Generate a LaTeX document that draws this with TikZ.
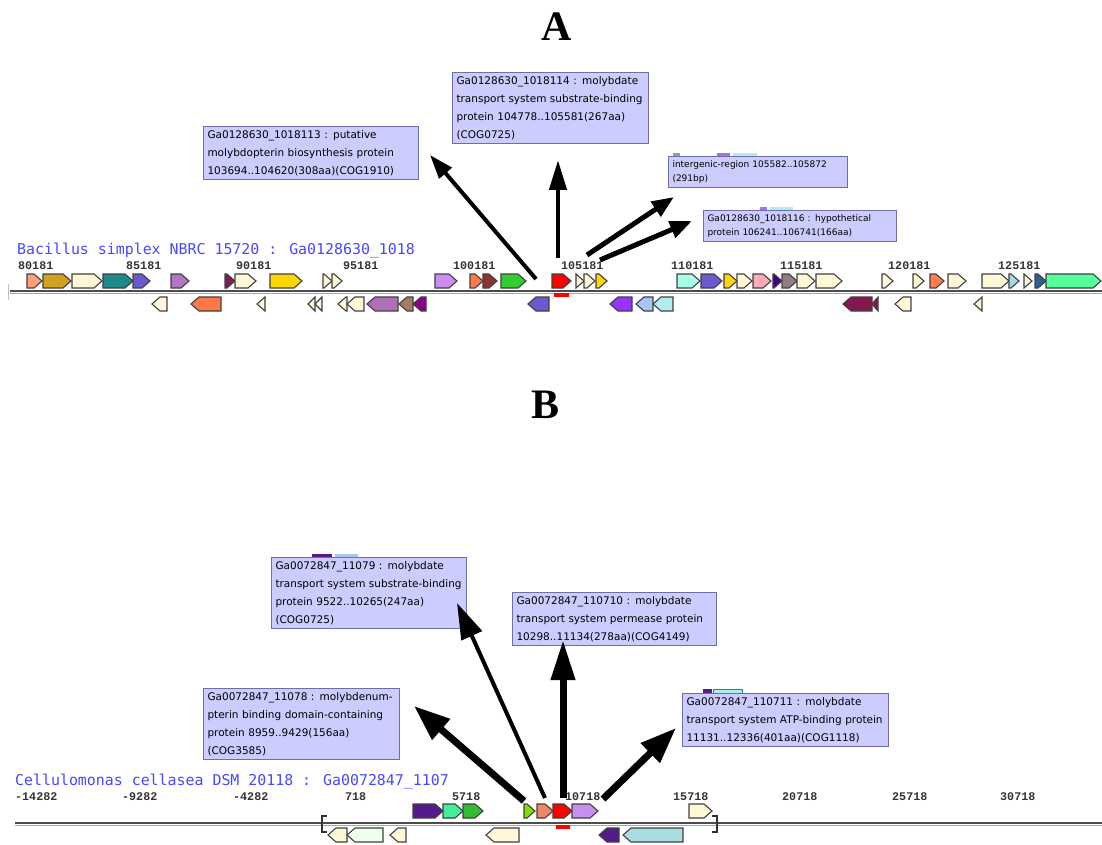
\documentclass[tikz,border=0pt]{standalone}
\usepackage{fontspec}
\setmainfont{DejaVu Sans}
\newfontfamily\monofam{DejaVu Sans Mono}
\newfontfamily\numfam{Liberation Mono}
\newfontfamily\serffam{Liberation Serif}
\usetikzlibrary{arrows.meta}
\definecolor{csilk}{HTML}{FFF7D6}
\definecolor{salm}{HTML}{FFA07A}
\definecolor{gold1}{HTML}{D4A020}
\definecolor{teal1}{HTML}{1A8A8A}
\definecolor{slate}{HTML}{6A5ACD}
\definecolor{orch}{HTML}{B274C4}
\definecolor{maro}{HTML}{7B1F55}
\definecolor{gold2}{HTML}{FFD700}
\definecolor{viol}{HTML}{CC8CF0}
\definecolor{tomat}{HTML}{FF7A45}
\definecolor{brwn}{HTML}{8B3333}
\definecolor{lime1}{HTML}{33CC33}
\definecolor{aqua1}{HTML}{A8FFE8}
\definecolor{pink1}{HTML}{FFAAB8}
\definecolor{indg}{HTML}{4B0082}
\definecolor{gbrn}{HTML}{8E7F80}
\definecolor{coral1}{HTML}{FF7F50}
\definecolor{lblue}{HTML}{A6D8E8}
\definecolor{dblue}{HTML}{2F5F8F}
\definecolor{sprg}{HTML}{55FF99}
\definecolor{coral2}{HTML}{FF7744}
\definecolor{orch2}{HTML}{B070B8}
\definecolor{tan1}{HTML}{A87C62}
\definecolor{dmag}{HTML}{8B008B}
\definecolor{bviol}{HTML}{9933FF}
\definecolor{lsteel}{HTML}{A8C4F8}
\definecolor{pturq}{HTML}{B0EEEE}
\definecolor{maro2}{HTML}{861650}
\definecolor{indg2}{HTML}{551A8B}
\definecolor{aqua2}{HTML}{44EE99}
\definecolor{lime2}{HTML}{33BB33}
\definecolor{lawn}{HTML}{88DD00}
\definecolor{dsalm}{HTML}{F08868}
\definecolor{lpurp}{HTML}{C690F0}
\definecolor{honey}{HTML}{EEFFEE}
\definecolor{pblue}{HTML}{A8DDE2}
\definecolor{labfill}{HTML}{CCCCFF}
\definecolor{labdraw}{HTML}{6E6EAA}
\definecolor{ttlblue}{HTML}{4848FF}
\tikzset{
  gene/.style={draw=black!75,line width=1.1pt,line join=miter},
  lab/.style={fill=labfill,draw=labdraw,line width=1pt,anchor=north west,align=left,inner xsep=4pt,inner ysep=4pt,font=\fontsize{10.5}{18}\selectfont},
  labsm/.style={lab,font=\fontsize{9}{14.3}\selectfont},
  species/.style={anchor=west,text=ttlblue,font=\monofam\fontsize{14.9}{15}\selectfont,inner sep=0pt},
  num/.style={anchor=west,text=black!80,font=\numfam\bfseries\fontsize{11.7}{12}\selectfont,inner sep=0pt},
  axisline/.style={draw=black!70,line width=1.6pt},
  redbar/.style={fill=red},
  ptr/.style={line width=4pt,-{Triangle[length=24pt,width=16pt]}},
  ptrB/.style={line width=7pt,-{Triangle[length=36pt,width=26pt]}},
  panel/.style={font=\serffam\bfseries\fontsize{42}{42}\selectfont,inner sep=0pt}
}
\newcommand\gR[4]{\pgfmathsetmacro\gHd{min(8,#2-#1)}\draw[gene,fill=#4] (#1,#3-7) -- ({#2-\gHd},#3-7) -- (#2,#3) -- ({#2-\gHd},#3+7) -- (#1,#3+7) -- cycle;}
\newcommand\gL[4]{\pgfmathsetmacro\gHd{min(8,#2-#1)}\draw[gene,fill=#4] (#2,#3-7) -- ({#1+\gHd},#3-7) -- (#1,#3) -- ({#1+\gHd},#3+7) -- (#2,#3+7) -- cycle;}
\begin{document}
\begin{tikzpicture}[x=1pt,y=-1pt]
\useasboundingbox[fill=white] (0,0) rectangle (1102,845);
% panel letters
\node[panel] (pA) at (557,27) {A};
\node[panel] (pB) at (545,405) {B};
% ===== Panel A =====
\node[species] (spA) at (17,251) {Bacillus simplex NBRC 15720 : Ga0128630\_1018};
\foreach \x/\t in {18/80181,126/85181,236/90181,343/95181,453/100181,561/105181,671/110181,780/115181,888/120181,998/125181}
  \node[num] at (\x,266) {\t};
\draw[black!25,line width=1pt] (8,284) -- (8,300);
\draw[axisline] (10,291) -- (1102,291);
\draw[black!35,line width=0.8pt] (10,293) -- (1102,293);
% top row genes
\gR{27}{42}{281}{salm}
\gR{43}{71}{281}{gold1}
\gR{72}{102}{281}{csilk}
\gR{103}{133}{281}{teal1}
\gR{133}{150}{281}{slate}
\gR{171}{189}{281}{orch}
\gR{225}{235}{281}{maro}
\gR{235}{256}{281}{csilk}
\gR{270}{302}{281}{gold2}
\gR{323}{332}{281}{csilk}
\gR{332}{342}{281}{csilk}
\gR{435}{457}{281}{viol}
\gR{470}{483}{281}{tomat}
\gR{483}{497}{281}{brwn}
\gR{501}{526}{281}{lime1}
\gR{552}{571}{281}{red}
\gR{576}{584}{281}{csilk}
\gR{584}{595}{281}{csilk}
\gR{596}{607}{281}{gold2}
\gR{677}{700}{281}{aqua1}
\gR{701}{722}{281}{slate}
\gR{724}{737}{281}{gold2}
\gR{737}{752}{281}{csilk}
\gR{753}{771}{281}{pink1}
\gR{773}{782}{281}{indg}
\gR{782}{797}{281}{gbrn}
\gR{797}{815}{281}{csilk}
\gR{816}{842}{281}{csilk}
\gR{882}{893}{281}{csilk}
\gR{913}{924}{281}{csilk}
\gR{930}{944}{281}{coral1}
\gR{948}{966}{281}{csilk}
\gR{982}{1009}{281}{csilk}
\gR{1009}{1019}{281}{lblue}
\gR{1024}{1032}{281}{csilk}
\gR{1035}{1046}{281}{dblue}
\gR{1046}{1101}{281}{sprg}
% bottom row genes
\gL{152}{167}{304}{csilk}
\gL{191}{221}{304}{coral2}
\gL{257}{265}{304}{csilk}
\gL{308}{315}{304}{csilk}
\gL{315}{322}{304}{csilk}
\gL{338}{347}{304}{csilk}
\gL{347}{364}{304}{csilk}
\gL{367}{398}{304}{orch2}
\gL{399}{413}{304}{tan1}
\gL{413}{426}{304}{dmag}
\gL{528}{549}{304}{slate}
\gL{610}{632}{304}{bviol}
\gL{636}{653}{304}{lsteel}
\gL{653}{673}{304}{pturq}
\gL{843}{872}{304}{maro2}
\gL{872}{878}{304}{maro2}
\gL{895}{911}{304}{csilk}
\gL{974}{982}{304}{csilk}
\fill[redbar] (554,293) rectangle (569,297);
% peeking bits behind labels
\fill[black!40] (673,153) rectangle (680,157);
\fill[viol!80!blue] (717,153) rectangle (730,157);
\fill[pturq] (733,153) rectangle (757,157);
\fill[viol!80!blue] (760,207) rectangle (767,211);
\fill[pturq] (770,207) rectangle (793,211);
% labels A
\node[lab,text width=207pt] (lA1) at (203,126) {Ga0128630\_1018113 : putative\\molybdopterin biosynthesis protein\\103694..104620(308aa)(COG1910)};
\node[lab,text width=188pt] (lA2) at (452,72) {Ga0128630\_1018114 : molybdate\\transport system substrate-binding\\protein 104778..105581(267aa)\\(COG0725)};
\node[labsm,text width=171pt] (lA3) at (668,156) {intergenic-region 105582..105872\\(291bp)};
\node[labsm,text width=185pt] (lA4) at (703,210) {Ga0128630\_1018116 : hypothetical\\protein 106241..106741(166aa)};
% arrows A
\coordinate (sA1) at (536,279);
\coordinate (tA1) at (430,155);
\coordinate (sA2) at (558,258);
\coordinate (tA2) at (558,160);
\coordinate (sA3) at (587,255);
\coordinate (tA3) at (674,197);
\coordinate (sA4) at (600,260);
\coordinate (tA4) at (692,221);
\draw[ptr] (sA1) -- (tA1);
\draw[ptr,line width=4.5pt,-{Triangle[length=30pt,width=17pt]}] (sA2) -- (tA2);
\draw[ptr,line width=5pt,-{Triangle[length=22pt,width=17pt]}] (sA3) -- (tA3);
\draw[ptr,line width=5pt,-{Triangle[length=22pt,width=17pt]}] (sA4) -- (tA4);
% ===== Panel B =====
\node[species] (spB) at (15,782) {Cellulomonas cellasea DSM 20118 : Ga0072847\_1107};
\foreach \x/\t in {15/-14282,122/-9282,233/-4282,345/718,452/5718,565/10718,673/15718,782/20718,892/25718,1000/30718}
  \node[num] at (\x,797) {\t};
\draw[axisline] (15,823) -- (1102,823);
\draw[black!35,line width=0.8pt] (15,825) -- (1102,825);
\draw[black!80,line width=1.3pt] (327,816) -- (322,816) -- (322,832) -- (327,832);
\draw[black!80,line width=1.3pt] (712,816) -- (717,816) -- (717,832) -- (712,832);
\gR{413}{443}{811}{indg2}
\gR{443}{463}{811}{aqua2}
\gR{463}{483}{811}{lime2}
\gR{524}{535}{811}{lawn}
\gR{537}{553}{811}{dsalm}
\gR{553}{572}{811}{red}
\gR{572}{598}{811}{lpurp}
\gR{689}{712}{811}{csilk}
\gL{328}{347}{835}{csilk}
\gL{347}{383}{835}{honey}
\gL{390}{406}{835}{csilk}
\gL{486}{519}{835}{csilk}
\gL{599}{619}{835}{indg2}
\gL{623}{683}{835}{pblue}
\fill[redbar] (556,825) rectangle (570,829);
% peeking bits
\fill[indg2] (312,554) rectangle (332,558);
\fill[lsteel] (335,554) rectangle (358,558);
\fill[indg2] (703,689) rectangle (712,694);
\draw[teal1,fill=pturq,line width=0.8pt] (713,689) rectangle (742,696);
% labels B
\node[lab,text width=187pt] (lB1) at (271,557) {Ga0072847\_11079 : molybdate\\transport system substrate-binding\\protein 9522..10265(247aa)\\(COG0725)};
\node[lab,text width=196pt] (lB2) at (512,592) {Ga0072847\_110710 : molybdate\\transport system permease protein\\10298..11134(278aa)(COG4149)};
\node[lab,text width=188pt] (lB3) at (203,688) {Ga0072847\_11078 : molybdenum-\\pterin binding domain-containing\\protein 8959..9429(156aa)\\(COG3585)};
\node[lab,text width=198pt] (lB4) at (682,693) {Ga0072847\_110711 : molybdate\\transport system ATP-binding protein\\11131..12336(401aa)(COG1118)};
% arrows B
\coordinate (sB1) at (524,801);
\coordinate (tB1) at (414,706);
\coordinate (sB2) at (545,798);
\coordinate (tB2) at (457,603);
\coordinate (sB3) at (563,798);
\coordinate (tB3) at (563,640);
\coordinate (sB4) at (603,799);
\coordinate (tB4) at (676,728);
\draw[ptrB] (sB1) -- (tB1);
\draw[ptrB,line width=4pt,-{Triangle[length=36pt,width=22pt]}] (sB2) -- (tB2);
\draw[ptrB,-{Triangle[length=40pt,width=23pt]}] (sB3) -- (tB3);
\draw[ptrB] (sB4) -- (tB4);
\end{tikzpicture}
\end{document}
